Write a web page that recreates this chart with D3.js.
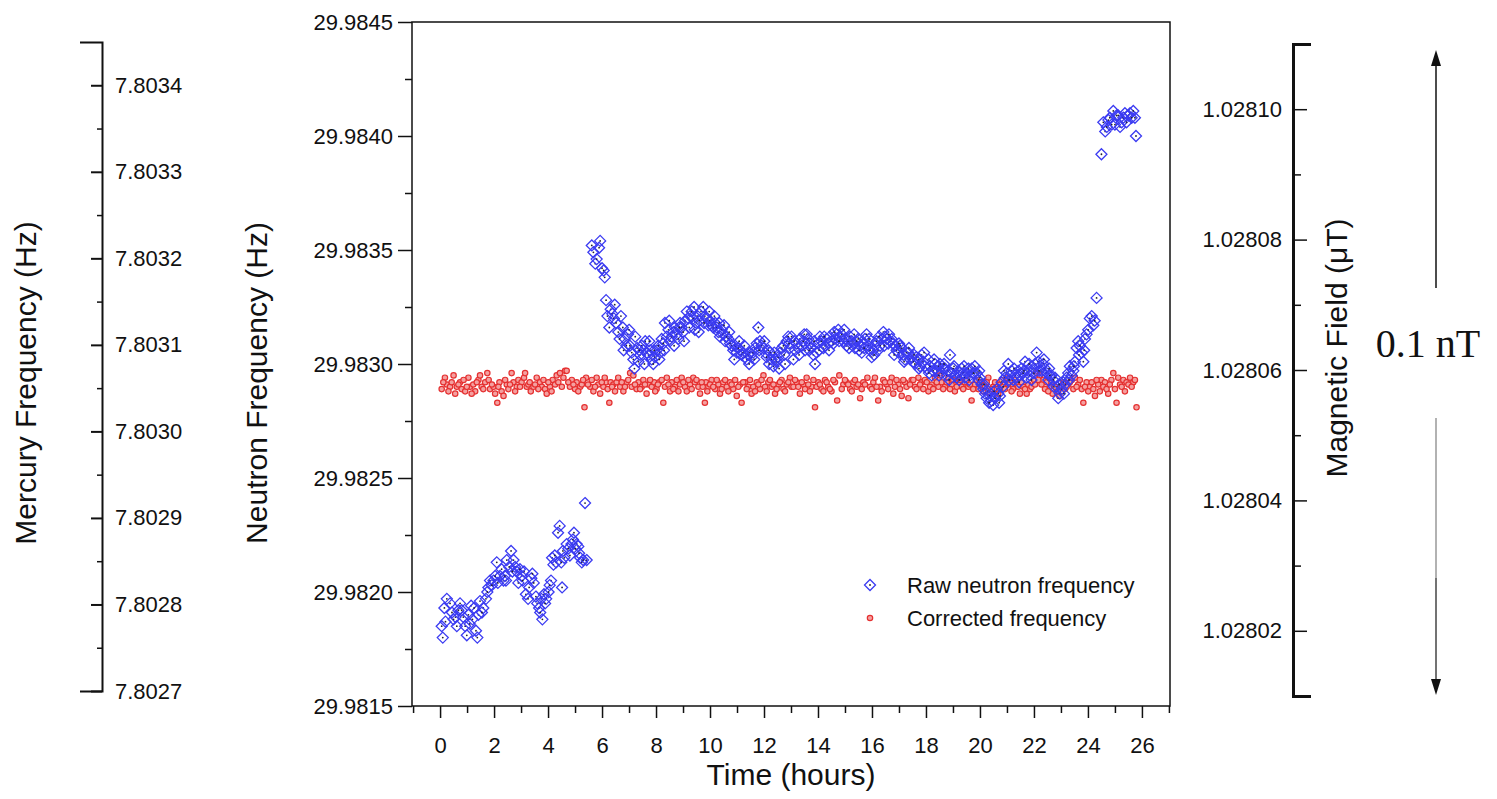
<!DOCTYPE html>
<html>
<head>
<meta charset="utf-8">
<script src="https://cdn.jsdelivr.net/npm/d3@7"></script>
<style>
  body { margin: 0; background: #fff; }
  svg text { font-family: "Liberation Sans", Arial, sans-serif; fill: #111; }
</style>
</head>
<body>
<svg id="chart" width="1497" height="799"></svg>
<script>
// Tick values for each axis
var timeTicks = [0, 2, 4, 6, 8, 10, 12, 14, 16, 18, 20, 22, 24, 26];
var timeMinor = [-1, 1, 3, 5, 7, 9, 11, 13, 15, 17, 19, 21, 23, 25, 27];
var neutronTicks = [29.9815, 29.9820, 29.9825, 29.9830, 29.9835, 29.9840, 29.9845];
var neutronMinor = [29.98175, 29.98225, 29.98275, 29.98325, 29.98375, 29.98425];
var mercuryTicks = [7.8027, 7.8028, 7.8029, 7.8030, 7.8031, 7.8032, 7.8033, 7.8034];
var mercuryMinor = [7.80275, 7.80285, 7.80295, 7.80305, 7.80315, 7.80325, 7.80335];
var fieldTicks = [1.02802, 1.02804, 1.02806, 1.02808, 1.02810];
var fieldMinor = [1.02803, 1.02805, 1.02807, 1.02809];

var legendLabels = ["Raw neutron frequency", "Corrected frequency"];

// Raw neutron frequency: [time (h), frequency (Hz)]
var rawNeutron = [
  [0.06,29.98185],[0.10,29.98180],[0.16,29.98193],[0.25,29.98197],[0.37,29.98195],[0.44,29.98191],
  [0.57,29.98189],[0.62,29.98185],[0.74,29.98195],[0.80,29.98192],[0.93,29.98185],[0.99,29.98181],
  [1.05,29.98190],[1.15,29.98194],[1.26,29.98193],[1.33,29.98183],[1.38,29.98180],[1.42,29.98190],
  [1.48,29.98196],[1.60,29.98193],[1.70,29.98197],[1.79,29.98202],[1.85,29.98205],[1.98,29.98205],
  [2.10,29.98213],[2.14,29.98204],[2.22,29.98207],[2.35,29.98205],[2.44,29.98205],[2.47,29.98214],
  [2.63,29.98218],[2.72,29.98214],[2.78,29.98211],[2.84,29.98209],[2.90,29.98204],[3.02,29.98207],
  [3.11,29.98209],[3.18,29.98199],[3.26,29.98197],[3.38,29.98206],[3.47,29.98204],[3.60,29.98195],
  [3.67,29.98193],[3.75,29.98197],[3.79,29.98188],[3.85,29.98199],[3.93,29.98197],[4.02,29.98200],
  [4.11,29.98205],[4.15,29.98215],[4.20,29.98212],[4.30,29.98213],[4.37,29.98226],[4.43,29.98229],
  [4.49,29.98213],[4.52,29.98202],[4.60,29.98215],[4.69,29.98221],[4.81,29.98216],[4.87,29.98221],
  [4.96,29.98226],[5.06,29.98221],[5.12,29.98220],[5.19,29.98215],[5.25,29.98213],[5.37,29.98239],
  [5.43,29.98214],
  [0.20,29.98187],[0.50,29.98188],[0.68,29.98192],[0.86,29.98189],[1.10,29.98186],[1.20,29.98188],
  [1.55,29.98191],[1.75,29.98200],[1.92,29.98203],[2.04,29.98207],[2.28,29.98210],[2.40,29.98207],
  [2.56,29.98211],[2.68,29.98209],[2.96,29.98210],[3.06,29.98205],[3.30,29.98202],[3.42,29.98208],
  [3.55,29.98198],[3.71,29.98191],[3.89,29.98195],[4.06,29.98203],[4.25,29.98216],[4.55,29.98218],
  [4.75,29.98219],[4.92,29.98223],[5.01,29.98219],[5.15,29.98217],[5.30,29.98214],
  [5.62,29.98352],[5.68,29.98349],[5.75,29.98344],[5.80,29.98346],[5.89,29.98351],[5.93,29.98354],
  [6.00,29.98342],[6.06,29.98341],[6.10,29.98338],[6.15,29.98328],[6.20,29.98321],[6.27,29.98316],
  [6.32,29.98324],[6.38,29.98322],[6.44,29.98320],[6.52,29.98318],[6.60,29.98314],[6.70,29.98321],
  [6.77,29.98316],[6.84,29.98311],[6.90,29.98308],[6.96,29.98313],[7.03,29.98308],[7.10,29.98305],
  [7.16,29.98302],[7.23,29.98312],[7.30,29.98307],[7.35,29.98301],[7.41,29.98304],[7.47,29.98308],
  [7.54,29.98306],[7.60,29.98310],[7.66,29.98305],[7.72,29.98304],[7.78,29.98306],[7.84,29.98302],
  [7.90,29.98300],[7.96,29.98303],[8.03,29.98306],[8.09,29.98308],[8.15,29.98305],[8.21,29.98311],
  [8.27,29.98309],[8.33,29.98318],[8.40,29.98312],[8.46,29.98315],[8.52,29.98310],[8.58,29.98312],
  [8.64,29.98314],[8.70,29.98316],[8.77,29.98313],[8.83,29.98311],[8.89,29.98318],[8.95,29.98316],
  [9.01,29.98314],[9.08,29.98319],[9.14,29.98323],[9.20,29.98320],[9.26,29.98321],[9.32,29.98323],
  [9.38,29.98320],[9.44,29.98315],[9.50,29.98318],[9.54,29.98321],[9.61,29.98319],[9.67,29.98323],
  [9.75,29.98325],[9.81,29.98321],[9.88,29.98320],[9.94,29.98317],[10.00,29.98319],[10.06,29.98317],
  [10.12,29.98316],[10.19,29.98318],[10.25,29.98316],[10.31,29.98314],[10.37,29.98312],[10.43,29.98315],
  [10.49,29.98313],[10.56,29.98310],[10.62,29.98312],[10.68,29.98311],[10.74,29.98309],[10.80,29.98308],
  [10.86,29.98306],[10.93,29.98308],[10.99,29.98305],[11.05,29.98307],[11.11,29.98306],[11.17,29.98304],
  [11.23,29.98305],[11.30,29.98303],[11.36,29.98302],[11.42,29.98304],[11.48,29.98305],[11.54,29.98303],
  [11.60,29.98305],[11.67,29.98307],[11.73,29.98309],[11.79,29.98316],[11.85,29.98310],[11.91,29.98308],
  [11.98,29.98307],[12.04,29.98305],[12.10,29.98303],[12.16,29.98306],[12.22,29.98305],[12.28,29.98302],
  [12.35,29.98299],[12.41,29.98302],[12.47,29.98301],[12.53,29.98303],[12.60,29.98305],[12.66,29.98307],
  [12.72,29.98308],[12.78,29.98300],[12.84,29.98310],[12.90,29.98312],[12.96,29.98307],[13.02,29.98312],
  [13.09,29.98302],[13.15,29.98306],[13.21,29.98309],[13.27,29.98307],[13.33,29.98311],[13.40,29.98308],
  [13.46,29.98310],[13.52,29.98306],[13.58,29.98313],[13.64,29.98311],[13.70,29.98309],[13.76,29.98307],
  [13.83,29.98304],[13.89,29.98300],[13.95,29.98305],[14.01,29.98309],[14.07,29.98312],[14.13,29.98310],
  [14.20,29.98307],[14.26,29.98308],[14.32,29.98311],[14.38,29.98309],[14.44,29.98312],[14.50,29.98310],
  [14.57,29.98309],[14.63,29.98311],[14.69,29.98313],[14.75,29.98315],[14.81,29.98312],[14.88,29.98313],
  [14.94,29.98310],[15.00,29.98311],[15.06,29.98308],[15.12,29.98310],[15.19,29.98312],[15.25,29.98310],
  [15.31,29.98309],[15.37,29.98307],[15.43,29.98310],[15.49,29.98311],[15.56,29.98308],[15.62,29.98305],
  [15.68,29.98309],[15.74,29.98311],[15.80,29.98313],[15.86,29.98308],[15.93,29.98306],[15.99,29.98303],
  [16.05,29.98306],[16.11,29.98308],[16.17,29.98310],[16.23,29.98306],[16.30,29.98308],[16.36,29.98311],
  [16.42,29.98314],[16.48,29.98312],[16.54,29.98311],[16.60,29.98309],[16.67,29.98310],[16.73,29.98311],
  [16.79,29.98309],[16.85,29.98308],[16.91,29.98306],[16.98,29.98305],[17.04,29.98308],[17.10,29.98307],
  [17.16,29.98304],[17.22,29.98302],[17.28,29.98305],[17.35,29.98305],[17.41,29.98302],[17.47,29.98303],
  [17.53,29.98301],[17.59,29.98300],[17.65,29.98303],[17.72,29.98302],[17.78,29.98299],[17.84,29.98304],
  [17.90,29.98301],[17.96,29.98299],[18.03,29.98298],[18.09,29.98302],[18.15,29.98299],[18.21,29.98295],
  [18.27,29.98297],[18.33,29.98300],[18.40,29.98297],[18.46,29.98299],[18.52,29.98300],[18.58,29.98296],
  [18.64,29.98298],[18.70,29.98298],[18.77,29.98295],[18.83,29.98297],[18.89,29.98304],[18.95,29.98296],
  [19.01,29.98298],[19.07,29.98295],[19.14,29.98294],[19.20,29.98297],[19.26,29.98295],[19.32,29.98298],
  [19.38,29.98296],[19.44,29.98294],[19.51,29.98296],[19.57,29.98298],[19.63,29.98295],[19.69,29.98298],
  [19.75,29.98296],[19.81,29.98299],[19.88,29.98296],[19.94,29.98293],[20.00,29.98294],[20.06,29.98291],
  [20.12,29.98289],[20.19,29.98287],[20.25,29.98285],[20.31,29.98288],[20.37,29.98286],[20.43,29.98284],
  [20.49,29.98282],[20.56,29.98285],[20.62,29.98289],[20.68,29.98287],[20.74,29.98286],[20.80,29.98292],
  [20.86,29.98290],[20.93,29.98294],[20.99,29.98296],[21.05,29.98300],[21.11,29.98295],[21.17,29.98297],
  [21.23,29.98293],[21.30,29.98295],[21.36,29.98294],[21.42,29.98297],[21.48,29.98295],[21.54,29.98298],
  [21.60,29.98296],[21.67,29.98301],[21.73,29.98294],[21.79,29.98297],[21.85,29.98295],[21.91,29.98293],
  [21.98,29.98298],[22.04,29.98300],[22.10,29.98305],[22.16,29.98301],[22.22,29.98299],[22.28,29.98297],
  [22.35,29.98300],[22.41,29.98298],[22.47,29.98296],[22.53,29.98293],[22.59,29.98295],[22.65,29.98295],
  [22.72,29.98293],[22.78,29.98294],[22.84,29.98290],[22.90,29.98285],[22.96,29.98287],[23.03,29.98289],
  [23.09,29.98292],[23.15,29.98291],[23.21,29.98294],[23.27,29.98296],[23.33,29.98299],[23.40,29.98295],
  [23.46,29.98297],[23.52,29.98301],[23.58,29.98307],[23.64,29.98310],[23.70,29.98308],[23.77,29.98305],
  [23.83,29.98301],[23.89,29.98311],[23.95,29.98313],[24.01,29.98315],[24.07,29.98320],[24.14,29.98321],
  [24.20,29.98317],[24.25,29.98319],[24.32,29.98329],
  [6.47,29.98326],[6.65,29.98311],[6.80,29.98306],[7.00,29.98315],[7.20,29.98298],[7.38,29.98306],
  [7.57,29.98300],[7.75,29.98310],[7.93,29.98306],[8.12,29.98302],[8.30,29.98306],[8.49,29.98319],
  [8.67,29.98308],[8.86,29.98316],[9.04,29.98310],[9.23,29.98316],[9.41,29.98325],[9.58,29.98314],
  [9.78,29.98318],[9.97,29.98323],[10.16,29.98321],[10.34,29.98318],[10.52,29.98317],[10.71,29.98314],
  [10.90,29.98302],[11.08,29.98310],[11.27,29.98308],[11.45,29.98300],[11.64,29.98302],[11.82,29.98306],
  [12.01,29.98310],[12.19,29.98300],[12.38,29.98305],[12.56,29.98298],[12.75,29.98304],[12.93,29.98309],
  [13.12,29.98310],[13.30,29.98304],[13.49,29.98313],[13.67,29.98306],[13.86,29.98310],[14.04,29.98306],
  [14.23,29.98312],[14.41,29.98306],[14.60,29.98314],[14.78,29.98310],[14.97,29.98315],[15.15,29.98307],
  [15.34,29.98313],[15.52,29.98306],[15.71,29.98307],[15.89,29.98311],[16.08,29.98304],[16.26,29.98312],
  [16.45,29.98308],[16.63,29.98313],[16.82,29.98304],[17.00,29.98309],[17.19,29.98301],[17.37,29.98307],
  [17.56,29.98304],[17.74,29.98298],[17.93,29.98305],[18.11,29.98296],[18.30,29.98302],[18.48,29.98295],
  [18.67,29.98300],[18.86,29.98293],[19.04,29.98299],[19.23,29.98293],[19.41,29.98299],[19.60,29.98293],
  [19.78,29.98296],[19.97,29.98297],[20.15,29.98291],[20.34,29.98283],[20.52,29.98288],[20.71,29.98283],
  [20.89,29.98297],[21.08,29.98293],[21.26,29.98298],[21.45,29.98292],[21.63,29.98297],[21.82,29.98300],
  [22.00,29.98296],[22.19,29.98297],[22.37,29.98302],[22.56,29.98298],[22.74,29.98290],[22.93,29.98291],
  [23.11,29.98287],[23.30,29.98293],[23.48,29.98299],[23.67,29.98304],[23.86,29.98306],
  [24.50,29.98392],[24.57,29.98406],[24.64,29.98402],[24.70,29.98404],[24.76,29.98407],[24.81,29.98408],
  [24.88,29.98405],[24.94,29.98411],[25.00,29.98405],[25.06,29.98409],[25.12,29.98409],[25.19,29.98404],
  [25.25,29.98406],[25.31,29.98408],[25.37,29.98410],[25.43,29.98406],[25.50,29.98409],[25.56,29.98410],
  [25.62,29.98408],[25.68,29.98411],[25.74,29.98408],[25.78,29.98400]
];

// Corrected frequency: [time (h), frequency (Hz)]
var corrected = [
  [0.06,29.98289],[0.18,29.98294],[0.25,29.98291],[0.37,29.98290],[0.43,29.98292],[0.56,29.98287],
  [0.62,29.98290],[0.74,29.98292],[0.80,29.98289],[0.93,29.98288],[1.05,29.98294],[1.11,29.98290],
  [1.23,29.98291],[1.30,29.98288],[1.42,29.98293],[1.48,29.98295],[1.54,29.98290],[1.67,29.98292],
  [1.75,29.98296],[1.85,29.98289],[1.98,29.98290],[2.04,29.98287],[2.12,29.98283],[2.20,29.98292],
  [2.28,29.98288],[2.35,29.98286],[2.47,29.98291],[2.53,29.98289],[2.65,29.98296],[2.72,29.98292],
  [2.84,29.98290],[2.90,29.98293],[3.02,29.98292],[3.11,29.98294],[3.21,29.98290],[3.27,29.98291],
  [3.36,29.98288],[3.46,29.98290],[3.58,29.98294],[3.70,29.98292],[3.77,29.98290],[3.89,29.98289],
  [3.95,29.98287],[4.07,29.98290],[4.17,29.98293],[4.26,29.98291],[4.32,29.98295],[4.44,29.98296],
  [4.51,29.98290],[4.63,29.98297],[4.69,29.98297],[4.81,29.98290],[4.88,29.98293],[5.00,29.98289],
  [5.06,29.98292],[5.19,29.98290],[5.25,29.98291],[5.35,29.98281],[5.41,29.98294],[5.56,29.98290],
  [5.68,29.98288],[5.80,29.98294],[5.86,29.98291],[5.93,29.98287],[6.05,29.98290],[6.15,29.98292],
  [6.27,29.98283],[6.32,29.98292],[6.42,29.98291],[6.54,29.98292],[6.67,29.98290],[6.79,29.98288],
  [6.91,29.98292],[7.04,29.98296],[7.10,29.98290],[7.16,29.98295],[7.28,29.98289],[7.35,29.98292],
  [7.47,29.98290],[7.53,29.98293],[7.65,29.98287],[7.72,29.98291],[7.84,29.98290],[7.93,29.98292],
  [8.02,29.98289],[8.12,29.98292],[8.27,29.98283],[8.33,29.98290],[8.40,29.98294],[8.52,29.98288],
  [8.58,29.98292],[8.70,29.98290],[8.77,29.98293],[8.89,29.98291],[8.95,29.98294],[9.07,29.98290],
  [9.14,29.98288],[9.26,29.98291],[9.38,29.98294],[9.44,29.98292],[9.57,29.98290],[9.63,29.98287],
  [9.73,29.98290],[9.81,29.98283],[9.85,29.98292],[9.94,29.98290],[10.06,29.98293],[10.19,29.98289],
  [10.31,29.98291],[10.37,29.98287],[10.49,29.98292],[10.62,29.98290],[10.74,29.98292],[10.86,29.98289],
  [10.99,29.98286],[11.11,29.98291],[11.17,29.98283],[11.30,29.98292],[11.42,29.98290],[11.54,29.98287],
  [11.60,29.98290],[11.73,29.98292],[11.85,29.98289],[11.98,29.98295],[12.04,29.98290],[12.16,29.98292],
  [12.28,29.98290],[12.41,29.98287],[12.53,29.98291],[12.65,29.98293],[12.72,29.98289],[12.84,29.98291],
  [12.96,29.98294],[13.02,29.98290],[13.09,29.98290],[13.21,29.98292],[13.33,29.98287],[13.46,29.98291],
  [13.58,29.98294],[13.76,29.98290],[13.89,29.98281],[14.01,29.98292],[14.13,29.98289],[14.26,29.98293],
  [14.38,29.98290],[14.50,29.98288],[14.63,29.98292],[14.71,29.98284],[14.79,29.98295],[14.94,29.98291],
  [15.06,29.98292],[15.19,29.98289],[15.31,29.98292],[15.43,29.98290],[15.56,29.98285],[15.68,29.98292],
  [15.83,29.98294],[15.93,29.98290],[16.05,29.98292],[16.23,29.98284],[16.30,29.98290],[16.42,29.98293],
  [16.54,29.98291],[16.73,29.98294],[16.79,29.98287],[16.98,29.98291],[17.10,29.98286],[17.22,29.98292],
  [17.35,29.98285],[17.47,29.98293],[17.59,29.98290],[17.72,29.98294],[17.84,29.98292],[17.96,29.98293],
  [18.09,29.98288],[18.21,29.98291],[18.33,29.98294],[18.46,29.98290],[18.58,29.98292],[18.70,29.98290],
  [18.83,29.98294],[18.95,29.98291],[19.07,29.98288],[19.20,29.98292],[19.32,29.98290],[19.44,29.98292],
  [19.57,29.98290],[19.69,29.98284],[19.81,29.98291],[19.94,29.98289],[20.06,29.98291],[20.19,29.98290],
  [20.31,29.98294],[20.37,29.98287],[20.49,29.98290],[20.62,29.98289],[20.74,29.98291],[20.86,29.98290],
  [20.99,29.98294],[21.11,29.98292],[21.23,29.98289],[21.36,29.98291],[21.48,29.98287],[21.60,29.98290],
  [21.73,29.98287],[21.85,29.98289],[22.00,29.98293],[22.10,29.98296],[22.22,29.98295],[22.35,29.98293],
  [22.47,29.98292],[22.59,29.98290],[22.69,29.98287],[22.84,29.98289],[22.94,29.98286],[23.03,29.98290],
  [23.15,29.98289],[23.27,29.98291],[23.40,29.98293],[23.52,29.98294],[23.64,29.98291],[23.77,29.98289],
  [23.83,29.98283],[23.95,29.98292],[24.07,29.98290],[24.26,29.98286],[24.38,29.98291],[24.50,29.98293],
  [24.63,29.98292],[24.75,29.98287],[24.87,29.98293],[24.94,29.98296],[25.06,29.98283],[25.19,29.98291],
  [25.31,29.98293],[25.43,29.98292],[25.56,29.98294],[25.68,29.98292],[25.80,29.98281],
  [0.12,29.98292],[0.31,29.98288],[0.50,29.98295],[0.68,29.98291],[0.87,29.98293],[0.99,29.98290],
  [1.17,29.98287],[1.36,29.98292],[1.60,29.98289],[1.80,29.98293],[1.92,29.98291],[2.16,29.98290],
  [2.41,29.98293],[2.59,29.98291],[2.78,29.98288],[2.96,29.98290],[3.15,29.98296],[3.32,29.98292],
  [3.52,29.98291],[3.64,29.98289],[3.83,29.98293],[4.01,29.98292],[4.13,29.98288],[4.38,29.98292],
  [4.57,29.98294],[4.75,29.98292],[4.94,29.98291],[5.12,29.98288],[5.30,29.98293],[5.48,29.98291],
  [5.62,29.98293],[5.74,29.98290],[5.99,29.98292],[6.10,29.98294],[6.21,29.98289],[6.37,29.98290],
  [6.48,29.98288],[6.60,29.98294],[6.73,29.98292],[6.85,29.98290],[6.97,29.98293],[7.22,29.98291],
  [7.41,29.98289],[7.59,29.98291],[7.78,29.98293],[7.97,29.98288],[8.07,29.98291],[8.21,29.98293],
  [8.46,29.98291],[8.64,29.98289],[8.83,29.98288],[9.01,29.98292],[9.20,29.98293],[9.32,29.98289],
  [9.50,29.98293],[9.69,29.98292],[9.90,29.98288],[10.00,29.98291],[10.12,29.98290],[10.25,29.98293],
  [10.43,29.98289],[10.56,29.98293],[10.68,29.98288],[10.80,29.98291],[10.93,29.98293],[11.05,29.98290],
  [11.23,29.98292],[11.36,29.98289],[11.48,29.98293],[11.67,29.98288],[11.79,29.98291],[11.91,29.98293],
  [12.10,29.98288],[12.22,29.98293],[12.35,29.98291],[12.47,29.98289],[12.59,29.98292],[12.78,29.98288],
  [12.90,29.98292],[13.15,29.98293],[13.27,29.98290],[13.40,29.98292],[13.52,29.98289],[13.64,29.98291],
  [13.70,29.98288],[13.83,29.98293],[13.95,29.98290],[14.07,29.98291],[14.20,29.98288],[14.32,29.98292],
  [14.44,29.98289],[14.57,29.98293],[14.88,29.98289],[15.00,29.98293],[15.12,29.98291],[15.25,29.98288],
  [15.37,29.98293],[15.49,29.98291],[15.62,29.98289],[15.74,29.98291],[15.99,29.98289],[16.11,29.98294],
  [16.17,29.98290],[16.36,29.98288],[16.48,29.98292],[16.60,29.98289],[16.67,29.98292],[16.85,29.98290],
  [16.91,29.98293],[17.04,29.98289],[17.16,29.98293],[17.28,29.98290],[17.41,29.98291],[17.53,29.98293],
  [17.65,29.98289],[17.78,29.98291],[17.90,29.98289],[18.03,29.98292],[18.15,29.98290],[18.27,29.98289],
  [18.40,29.98292],[18.52,29.98295],[18.64,29.98289],[18.77,29.98292],[18.89,29.98289],[19.01,29.98293],
  [19.14,29.98290],[19.26,29.98293],[19.38,29.98289],[19.51,29.98293],[19.63,29.98291],[19.75,29.98289],
  [19.88,29.98293],[20.00,29.98292],[20.12,29.98288],[20.25,29.98292],[20.43,29.98289],[20.56,29.98292],
  [20.68,29.98287],[20.80,29.98293],[20.93,29.98289],[21.05,29.98291],[21.17,29.98288],[21.30,29.98293],
  [21.42,29.98290],[21.54,29.98292],[21.67,29.98289],[21.79,29.98291],[21.91,29.98290],[22.04,29.98291],
  [22.16,29.98293],[22.28,29.98291],[22.41,29.98289],[22.53,29.98288],[22.65,29.98292],[22.78,29.98290],
  [22.90,29.98288],[23.09,29.98292],[23.21,29.98290],[23.33,29.98292],[23.46,29.98289],[23.58,29.98290],
  [23.70,29.98293],[23.89,29.98290],[24.01,29.98288],[24.14,29.98292],[24.20,29.98289],[24.32,29.98293],
  [24.44,29.98288],[24.57,29.98290],[24.69,29.98289],[24.81,29.98291],[25.00,29.98289],[25.12,29.98294],
  [25.25,29.98290],[25.37,29.98288],[25.50,29.98291],[25.62,29.98290],[25.74,29.98293]
];

var blue = "#3b3bf2";
var red = "#e53030";

var svg = d3.select("#chart");

// Scales
var x = d3.scaleLinear().domain([-1.04, 27.04]).range([412, 1170]);
var y = d3.scaleLinear().domain([29.9815, 29.9845]).range([706, 22]);
var yHg = d3.scaleLinear().domain([7.8027, 7.80345]).range([691, 42]);
var yB = d3.scaleLinear().domain([1.02801, 1.02811]).range([696, 44]);

function styleAxis(g, size, width) {
  g.selectAll("text").attr("font-size", size).attr("font-family", "Liberation Sans, Arial, sans-serif").attr("fill", "#111");
  g.selectAll("line").attr("stroke", "#111").attr("stroke-width", width);
  g.selectAll(".domain").attr("stroke", "#111").attr("stroke-width", width);
}

// Plot frame
svg.append("rect")
  .attr("x", 412).attr("y", 22)
  .attr("width", 1170 - 412).attr("height", 706 - 22)
  .attr("fill", "none").attr("stroke", "#111").attr("stroke-width", 1.5);

// Bottom axis (time)
var gx = svg.append("g").attr("transform", "translate(0,706)")
  .call(d3.axisBottom(x).tickValues(timeTicks).tickSize(12).tickPadding(19).tickSizeOuter(0));
gx.select(".domain").remove();
styleAxis(gx, 22, 1.5);
var gxm = svg.append("g").attr("transform", "translate(0,706)")
  .call(d3.axisBottom(x).tickValues(timeMinor).tickSize(7).tickFormat(""));
gxm.select(".domain").remove();
styleAxis(gxm, 22, 1.5);

// Left axis (neutron frequency)
var gy = svg.append("g").attr("transform", "translate(412,0)")
  .call(d3.axisLeft(y).tickValues(neutronTicks).tickFormat(d3.format(".4f")).tickSize(14).tickPadding(5));
gy.select(".domain").remove();
styleAxis(gy, 22, 1.5);
var gym = svg.append("g").attr("transform", "translate(412,0)")
  .call(d3.axisLeft(y).tickValues(neutronMinor).tickSize(7).tickFormat(""));
gym.select(".domain").remove();
styleAxis(gym, 22, 1.5);

// Mercury frequency axis (bracket, labels on the right)
var gHg = svg.append("g").attr("transform", "translate(102,0)")
  .call(d3.axisRight(yHg).tickValues(mercuryTicks).tickFormat(d3.format(".4f"))
    .tickSize(-11).tickSizeOuter(-22).tickPadding(13));
styleAxis(gHg, 22, 2);
var gHgm = svg.append("g").attr("transform", "translate(102,0)")
  .call(d3.axisRight(yHg).tickValues(mercuryMinor).tickSize(-5).tickFormat(""));
gHgm.select(".domain").remove();
styleAxis(gHgm, 22, 1.5);

// Magnetic field axis (bracket, labels on the left)
var gB = svg.append("g").attr("transform", "translate(1293,0)")
  .call(d3.axisLeft(yB).tickValues(fieldTicks).tickFormat(d3.format(".5f"))
    .tickSize(-14).tickSizeOuter(-18).tickPadding(11));
styleAxis(gB, 22, 1.5);
gB.select(".domain").attr("stroke-width", 3);
var gBm = svg.append("g").attr("transform", "translate(1293,0)")
  .call(d3.axisLeft(yB).tickValues(fieldMinor).tickSize(-8).tickFormat(""));
gBm.select(".domain").remove();
styleAxis(gBm, 22, 1.5);

// Axis titles
svg.append("text").attr("transform", "translate(36,383) rotate(-90)")
  .attr("text-anchor", "middle").attr("font-size", 30).text("Mercury Frequency (Hz)");
svg.append("text").attr("transform", "translate(267,383) rotate(-90)")
  .attr("text-anchor", "middle").attr("font-size", 30).text("Neutron Frequency (Hz)");
svg.append("text").attr("transform", "translate(1347,348) rotate(-90)")
  .attr("text-anchor", "middle").attr("font-size", 30).text("Magnetic Field (\u03bcT)");
svg.append("text").attr("x", 791).attr("y", 785)
  .attr("text-anchor", "middle").attr("font-size", 30).text("Time (hours)");

// Markers
var diamond = "M0,-5.5L5.5,0L0,5.5L-5.5,0Z";

function drawRaw(sel) {
  sel.append("path").attr("d", diamond)
    .attr("fill", "none").attr("stroke", blue).attr("stroke-width", 1.3);
  sel.append("circle").attr("r", 0.9).attr("fill", "#223");
}
function drawCorr(sel) {
  sel.append("circle").attr("r", 2.7)
    .attr("fill", "#f4a0a0").attr("stroke", red).attr("stroke-width", 1.2);
}

svg.append("g").selectAll("g").data(corrected).join("g")
  .attr("transform", function(d) { return "translate(" + x(d[0]) + "," + y(d[1]) + ")"; })
  .call(drawCorr);

svg.append("g").selectAll("g").data(rawNeutron).join("g")
  .attr("transform", function(d) { return "translate(" + x(d[0]) + "," + y(d[1]) + ")"; })
  .call(drawRaw);

// Legend
var lg = svg.append("g");
var l1 = lg.append("g").attr("transform", "translate(870,585)");
drawRaw(l1);
var l2 = lg.append("g").attr("transform", "translate(870,618)");
drawCorr(l2);
lg.selectAll("text").data(legendLabels).join("text")
  .attr("x", 907).attr("y", function(d, i) { return 593 + i * 33; })
  .attr("font-size", 22).text(function(d) { return d; });

// 0.1 nT scale arrow
var arrowX = 1436;
svg.append("line").attr("x1", arrowX).attr("x2", arrowX).attr("y1", 62).attr("y2", 288)
  .attr("stroke", "#111").attr("stroke-width", 1.5);
svg.append("line").attr("x1", arrowX).attr("x2", arrowX).attr("y1", 418).attr("y2", 578)
  .attr("stroke", "#999").attr("stroke-width", 1.5);
svg.append("line").attr("x1", arrowX).attr("x2", arrowX).attr("y1", 578).attr("y2", 682)
  .attr("stroke", "#444").attr("stroke-width", 1.5);
svg.append("path").attr("d", "M" + arrowX + ",50L" + (arrowX - 5) + ",66L" + (arrowX + 5) + ",66Z").attr("fill", "#111");
svg.append("path").attr("d", "M" + arrowX + ",695L" + (arrowX - 5) + ",679L" + (arrowX + 5) + ",679Z").attr("fill", "#111");
svg.append("text").attr("x", arrowX - 8).attr("y", 357)
  .attr("text-anchor", "middle").attr("font-size", 40)
  .style("font-family", "'Liberation Serif', 'DejaVu Serif', serif")
  .text("0.1 nT");
</script>
</body>
</html>
